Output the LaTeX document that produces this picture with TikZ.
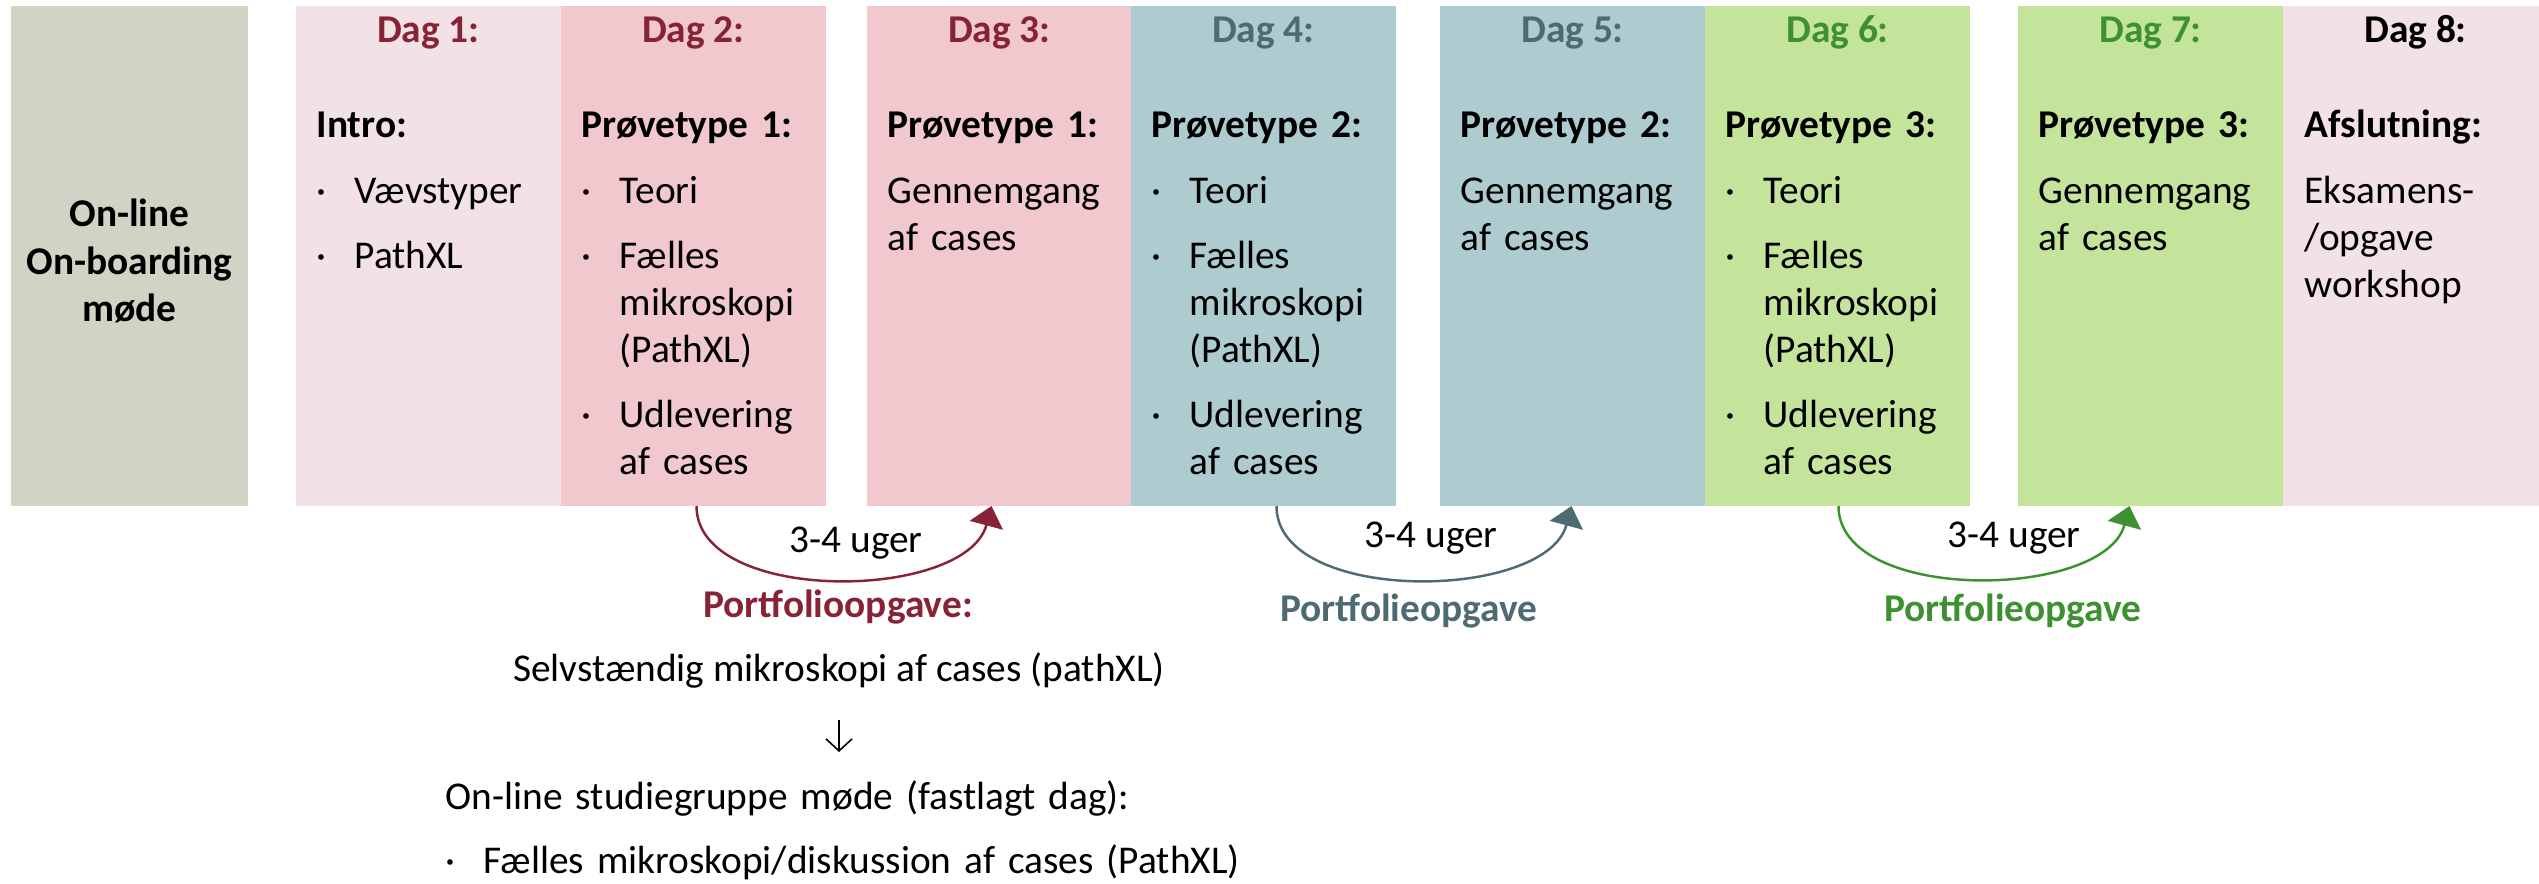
\documentclass[tikz,border=0pt]{standalone}
\usepackage{fontspec}
\setmainfont{Carlito}
\usetikzlibrary{arrows.meta}

\definecolor{onlgray}{RGB}{208,212,196}
\definecolor{daglight}{RGB}{242,225,229}
\definecolor{dagpink}{RGB}{240,200,205}
\definecolor{dagblue}{RGB}{174,203,208}
\definecolor{daggreen}{RGB}{196,228,156}
\definecolor{redtxt}{RGB}{135,35,52}
\definecolor{bluetxt}{RGB}{78,107,115}
\definecolor{greentxt}{RGB}{61,145,48}

\newcommand{\txtsize}{\fontsize{11.2}{13.4}\selectfont}
\newcommand{\bul}{\makebox[0.38cm][l]{·}}
\newcommand{\ind}{\hspace*{0.38cm}}

\begin{document}
\begin{tikzpicture}[
	dagbox/.style={anchor=north west, minimum width=2.65cm, minimum height=5cm, inner sep=0pt, outer sep=0pt},
	daghead/.style={anchor=base, inner sep=0pt, font=\txtsize\bfseries},
	body/.style={anchor=base west, align=left, text width=3cm, inner sep=0pt, font=\txtsize},
	lbl/.style={anchor=base, inner sep=0pt, font=\txtsize},
	weeks/.style={-{Triangle[length=0.2cm, width=0.34cm]}, line width=0.7pt},
	down/.style={-{Straight Barb[length=0.12cm, width=0.26cm]}, line width=0.45pt}
	]
	\useasboundingbox (0,0) rectangle (25.39,-8.84);
	% boxes
	\node[dagbox, fill=onlgray, minimum width=2.37cm] (onl) at (0.11,-0.06) {};
	\foreach \n/\x/\c in {d1/2.96/daglight, d2/5.61/dagpink, d3/8.67/dagpink, d4/11.31/dagblue,
		d5/14.40/dagblue, d6/17.05/daggreen, d7/20.18/daggreen, d8/22.83/daglight}
		\node[dagbox, fill=\c] (\n) at (\x,-0.06) {};
	\node[font=\txtsize\bfseries, align=center, inner sep=0pt] (onltxt) at ([yshift=-0.05cm]onl.center) {On-line\\On-boarding\\møde};
	% headings
	\foreach \n/\c in {1/redtxt, 2/redtxt, 3/redtxt, 4/bluetxt, 5/bluetxt, 6/greentxt, 7/greentxt, 8/black}
		\node[daghead, text=\c] (h\n) at ([yshift=-0.37cm]d\n.north) {Dag \n:};
	% day contents
	\node[body] (t1) at ([xshift=0.20cm, yshift=-1.32cm]d1.north west) {\textbf{Intro:}\\[0.18cm]
		\bul Vævstyper\\[0.18cm]
		\bul PathXL};
	\node[body] (t2) at ([xshift=0.20cm, yshift=-1.32cm]d2.north west) {\textbf{Prøvetype 1:}\\[0.18cm]
		\bul Teori\\[0.18cm]
		\bul Fælles\\ \ind mikroskopi\\ \ind (PathXL)\\[0.18cm]
		\bul Udlevering\\ \ind af cases};
	\node[body] (t3) at ([xshift=0.20cm, yshift=-1.32cm]d3.north west) {\textbf{Prøvetype 1:}\\[0.18cm]
		Gennemgang\\ af cases};
	\node[body] (t4) at ([xshift=0.20cm, yshift=-1.32cm]d4.north west) {\textbf{Prøvetype 2:}\\[0.18cm]
		\bul Teori\\[0.18cm]
		\bul Fælles\\ \ind mikroskopi\\ \ind (PathXL)\\[0.18cm]
		\bul Udlevering\\ \ind af cases};
	\node[body] (t5) at ([xshift=0.20cm, yshift=-1.32cm]d5.north west) {\textbf{Prøvetype 2:}\\[0.18cm]
		Gennemgang\\ af cases};
	\node[body] (t6) at ([xshift=0.20cm, yshift=-1.32cm]d6.north west) {\textbf{Prøvetype 3:}\\[0.18cm]
		\bul Teori\\[0.18cm]
		\bul Fælles\\ \ind mikroskopi\\ \ind (PathXL)\\[0.18cm]
		\bul Udlevering\\ \ind af cases};
	\node[body] (t7) at ([xshift=0.20cm, yshift=-1.32cm]d7.north west) {\textbf{Prøvetype 3:}\\[0.18cm]
		Gennemgang\\ af cases};
	\node[body] (t8) at ([xshift=0.21cm, yshift=-1.32cm]d8.north west) {\textbf{Afslutning:}\\[0.18cm]
		Eksamens-\\ /opgave\\ workshop};
	% 3-4 uger arrows
	\foreach \a/\b/\c/\s/\t in {d2/d3/redtxt/0.03/-0.08, d4/d5/bluetxt/0.13/-0.01, d6/d7/greentxt/0.01/-0.21}
		\draw[weeks, \c] ([xshift=\s cm]\a.south) to[out=-90, in=-105, looseness=0.86] ([xshift=\t cm]\b.south);
	\node[lbl] (u1) at (8.56,-5.53) {3-4 uger};
	\node[lbl] (u2) at (14.31,-5.48) {3-4 uger};
	\node[lbl] (u3) at (20.14,-5.48) {3-4 uger};
	\node[lbl, font=\txtsize\bfseries, text=redtxt] (p1) at (8.38,-6.18) {Portfolioopgave:};
	\node[lbl, font=\txtsize\bfseries, text=bluetxt] (p2) at (14.09,-6.22) {Portfolieopgave};
	\node[lbl, font=\txtsize\bfseries, text=greentxt] (p3) at (20.13,-6.22) {Portfolieopgave};
	% portfolio steps
	\node[lbl] (selv) at (8.39,-6.82) {Selvstændig mikroskopi af cases (pathXL)};
	\node[body, text width=8.5cm] (sg) at (4.45,-8.10) {On-line studiegruppe møde (fastlagt dag):\\[0.16cm]
		\makebox[0.38cm][l]{·}Fælles mikroskopi/diskussion af cases (PathXL)};
	\draw[down] ([yshift=-0.38cm]selv.base) -- ([yshift=0.58cm]selv.base |- sg.base);
\end{tikzpicture}
\end{document}
